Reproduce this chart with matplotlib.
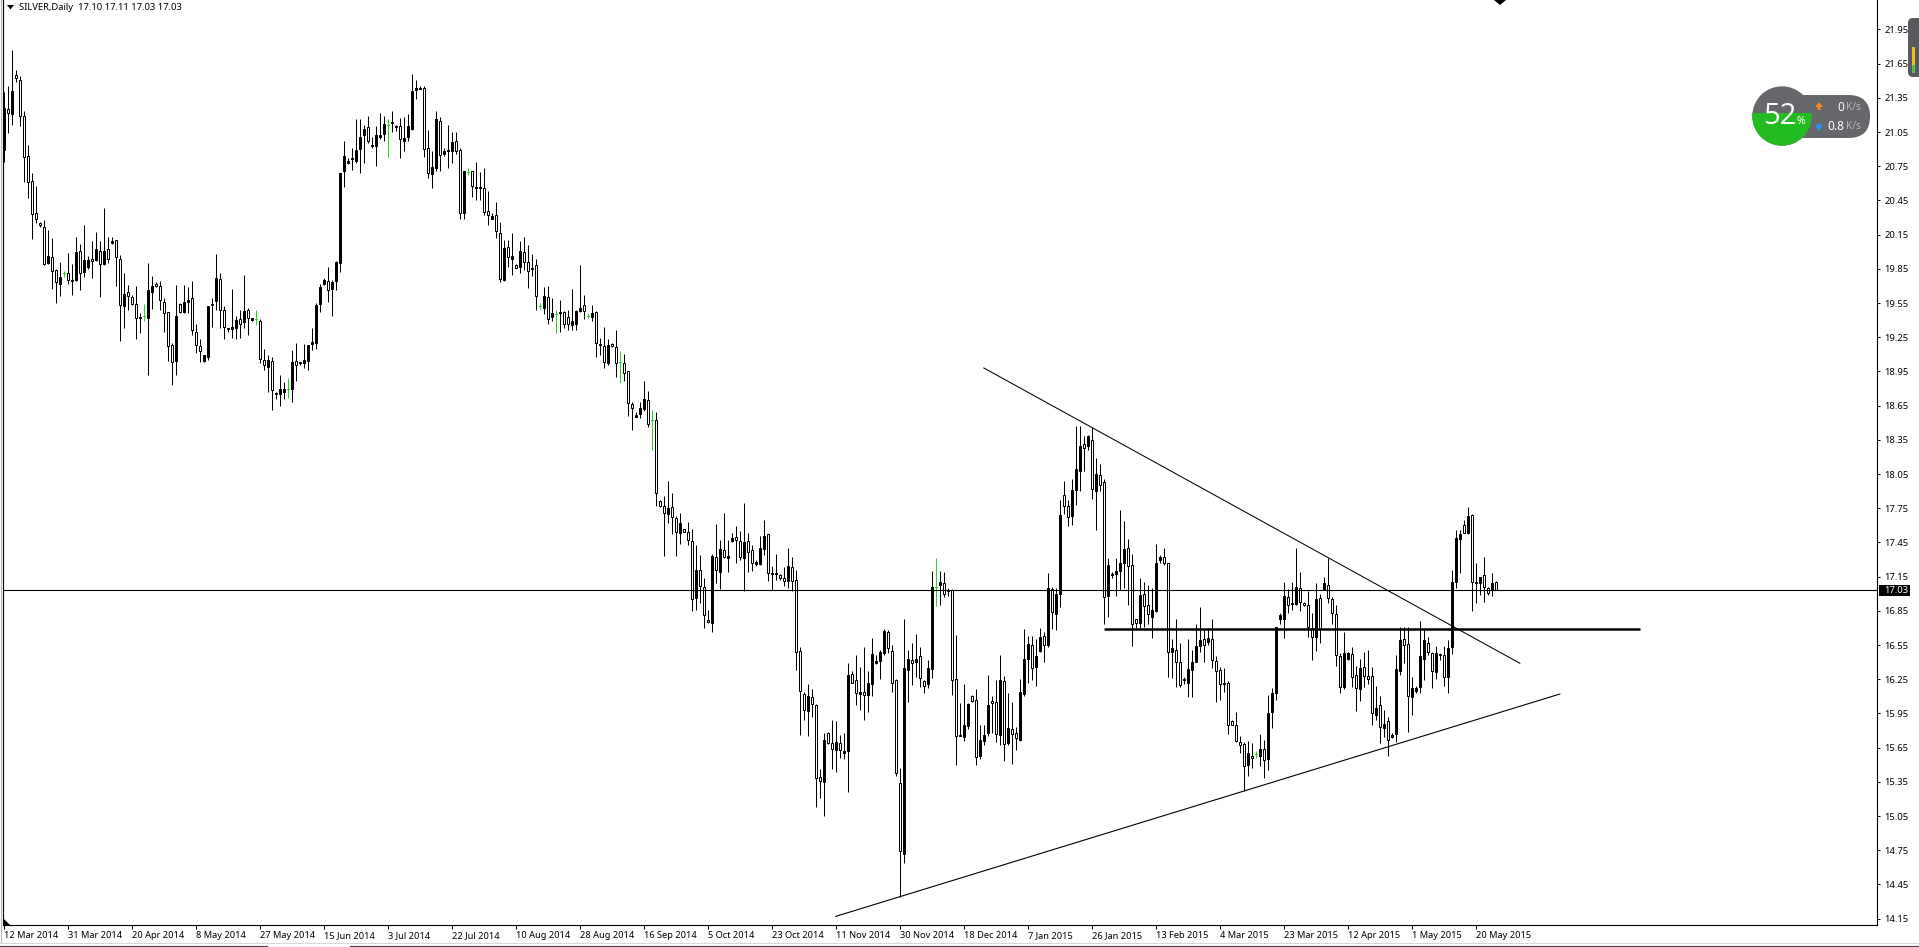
import matplotlib
matplotlib.use("Agg")
import matplotlib.pyplot as plt
from matplotlib.patches import Circle, FancyBboxPatch, Polygon, Rectangle

highs = [
21.40,21.45,21.77,21.59,21.54,21.23,20.94,20.69,20.58,20.26,
20.28,20.19,20.12,19.85,19.91,19.83,19.99,19.89,20.13,20.07,
20.23,19.96,20.09,20.17,20.09,20.38,20.13,20.13,20.10,19.97,
19.81,19.71,19.62,19.70,19.46,19.54,19.90,19.79,19.73,19.74,
19.59,19.47,19.20,19.71,19.55,19.71,19.69,19.74,19.37,19.23,
19.09,19.52,19.59,19.98,19.81,19.52,19.33,19.67,19.44,19.49,
19.80,19.51,19.42,19.49,19.41,19.15,19.09,19.08,18.77,18.92,
18.86,18.89,19.14,19.20,19.03,19.19,19.18,19.33,19.55,19.72,
19.77,19.87,19.75,19.92,20.69,20.97,20.82,20.91,21.16,21.16,
21.11,21.19,21.01,21.10,21.22,21.19,21.16,21.23,21.11,21.17,
21.18,21.21,21.56,21.51,21.45,21.45,21.07,20.88,21.23,21.18,
20.91,21.11,21.05,21.05,20.91,20.70,20.73,20.70,20.79,20.70,
20.73,20.53,20.34,20.44,20.26,20.10,20.10,20.16,19.89,20.09,
20.13,20.06,19.98,19.94,19.55,19.69,19.70,19.59,19.49,19.58,
19.48,19.49,19.67,19.49,19.88,19.62,19.46,19.53,19.48,19.24,
19.34,19.23,19.20,19.31,19.13,19.10,18.95,18.68,18.59,18.68,
18.87,18.78,18.61,18.59,17.82,17.86,17.99,17.88,17.68,17.71,
17.57,17.63,17.57,17.43,17.34,17.14,16.86,17.35,17.61,17.47,
17.71,17.47,17.53,17.59,17.55,17.80,17.53,17.43,17.30,17.51,
17.65,17.52,17.24,17.35,17.17,17.23,17.40,17.32,17.21,16.53,
16.14,16.21,16.16,16.03,15.46,15.78,15.79,15.89,15.88,15.76,
15.78,16.39,16.32,16.46,16.36,16.53,16.32,16.61,16.46,16.51,
16.69,16.68,16.55,16.25,15.47,16.78,16.51,16.57,16.65,16.53,
16.24,16.42,17.20,17.31,17.20,17.19,17.05,17.04,16.64,16.04,
16.21,16.04,16.11,16.16,15.85,15.85,16.29,16.10,16.24,16.46,
16.28,16.13,16.05,15.83,16.25,16.69,16.63,16.63,16.60,16.70,
16.66,17.18,17.06,17.05,17.82,17.99,17.82,18.01,18.47,18.47,
18.38,18.39,18.46,18.19,18.14,18.01,17.31,17.19,17.31,17.73,
17.64,17.48,17.35,16.78,17.14,17.10,17.08,17.05,17.44,17.34,
17.40,17.27,16.60,16.78,16.57,16.27,16.60,16.51,16.73,16.88,
16.68,16.70,16.78,16.45,16.36,16.35,16.23,15.89,15.96,15.75,
15.70,15.71,15.69,15.62,15.77,15.72,16.11,16.17,16.71,16.83,
17.10,17.04,17.10,17.40,17.19,16.93,17.02,16.83,17.09,17.00,
17.15,17.31,16.97,16.90,16.48,16.66,16.49,16.53,16.37,16.43,
16.49,16.51,16.36,16.19,16.10,15.98,15.92,15.78,16.46,16.71,
16.71,16.71,16.27,16.19,16.76,16.68,16.62,16.49,16.54,16.48,
16.54,16.59,17.21,17.56,17.56,17.65,17.76,17.70,17.27,17.15,
17.32,17.06,17.18,17.11]

body_top = [
21.26,21.25,21.41,21.55,21.51,21.19,20.84,20.62,20.34,20.25,
20.22,19.96,19.95,19.84,19.78,19.81,19.81,19.75,20.00,20.01,
19.93,19.93,19.94,20.02,20.01,20.01,20.02,20.09,20.10,19.94,
19.63,19.65,19.60,19.54,19.43,19.44,19.66,19.70,19.72,19.70,
19.56,19.47,19.18,19.44,19.54,19.56,19.58,19.59,19.30,19.17,
19.09,19.52,19.54,19.77,19.76,19.49,19.33,19.34,19.40,19.41,
19.48,19.49,19.42,19.41,19.39,19.05,19.05,19.04,18.76,18.80,
18.80,18.80,19.03,19.04,19.03,19.05,19.18,19.21,19.53,19.69,
19.75,19.74,19.73,19.91,20.69,20.84,20.80,20.82,20.89,21.01,
21.08,21.09,20.94,21.02,21.02,21.12,21.11,21.14,21.10,21.10,
21.00,21.10,21.41,21.44,21.44,21.44,20.91,20.74,21.16,21.15,
20.88,20.89,20.96,20.97,20.89,20.71,20.70,20.71,20.57,20.57,
20.56,20.36,20.31,20.32,20.16,20.03,20.04,19.96,19.88,20.01,
20.00,19.91,19.86,19.88,19.52,19.61,19.60,19.46,19.45,19.47,
19.47,19.43,19.39,19.48,19.51,19.53,19.44,19.46,19.47,19.19,
19.17,19.18,19.19,19.16,19.03,19.02,18.95,18.66,18.57,18.63,
18.71,18.70,18.52,18.52,17.81,17.77,17.75,17.76,17.66,17.62,
17.57,17.54,17.46,17.21,17.21,17.06,16.77,17.33,17.32,17.39,
17.38,17.33,17.49,17.50,17.46,17.45,17.46,17.38,17.28,17.40,
17.51,17.52,17.18,17.18,17.16,17.14,17.24,17.23,17.12,16.50,
16.12,16.10,16.09,16.02,15.39,15.72,15.78,15.69,15.70,15.69,
15.62,16.29,16.30,16.24,16.14,16.14,16.22,16.47,16.41,16.49,
16.67,16.66,16.50,16.24,15.34,16.35,16.43,16.42,16.43,16.45,
16.23,16.35,17.06,17.06,17.10,17.09,17.03,17.03,16.25,15.76,
15.85,16.03,16.10,16.07,15.72,15.76,16.02,16.06,16.05,16.24,
16.23,15.82,15.81,15.78,16.14,16.43,16.56,16.55,16.45,16.62,
16.63,17.05,17.04,17.00,17.69,17.87,17.77,17.91,18.09,18.30,
18.31,18.38,18.35,18.05,18.04,17.98,17.25,17.17,17.20,17.27,
17.39,17.40,17.25,16.78,16.99,17.00,16.90,16.86,17.27,17.32,
17.32,17.27,16.52,16.51,16.40,16.25,16.34,16.40,16.54,16.59,
16.60,16.61,16.60,16.41,16.33,16.22,16.22,15.88,15.85,15.70,
15.68,15.60,15.58,15.59,15.64,15.64,15.95,16.13,16.71,16.81,
16.98,16.97,16.92,17.06,17.05,16.92,16.90,16.70,16.95,16.96,
17.09,17.08,16.95,16.82,16.45,16.48,16.48,16.47,16.29,16.35,
16.36,16.28,16.28,16.00,16.02,15.86,15.88,15.76,16.34,16.59,
16.60,16.56,16.17,16.17,16.45,16.59,16.57,16.48,16.48,16.47,
16.46,16.52,17.10,17.49,17.52,17.60,17.68,17.69,17.10,17.15,
17.16,17.05,17.09,17.10]

body_bottom = [
20.89,21.22,21.21,21.52,21.19,20.83,20.61,20.33,20.29,20.23,
19.89,19.90,19.83,19.73,19.72,19.81,19.75,19.74,19.75,19.81,
19.82,19.87,19.92,19.93,19.89,19.89,19.94,20.08,19.95,19.53,
19.52,19.61,19.54,19.42,19.42,19.44,19.42,19.65,19.70,19.58,
19.46,19.17,19.03,19.04,19.47,19.47,19.56,19.31,19.18,19.13,
19.04,19.08,19.53,19.57,19.49,19.34,19.32,19.32,19.33,19.37,
19.38,19.42,19.40,19.41,19.06,19.01,18.99,18.79,18.75,18.75,
18.77,18.80,18.80,19.01,19.02,19.02,19.04,19.19,19.20,19.54,
19.72,19.66,19.67,19.74,19.90,20.71,20.78,20.81,20.80,20.90,
21.02,20.97,20.93,20.93,21.01,21.03,21.11,21.13,21.09,20.99,
20.97,21.01,21.08,21.42,21.43,20.90,20.69,20.68,20.73,20.85,
20.86,20.88,20.88,20.88,20.34,20.34,20.70,20.58,20.56,20.56,
20.35,20.32,20.29,20.18,19.76,19.75,19.95,19.94,19.86,19.87,
19.91,19.83,19.85,19.61,19.52,19.51,19.41,19.43,19.45,19.46,
19.37,19.37,19.36,19.37,19.48,19.48,19.44,19.43,19.20,19.18,
19.03,19.02,19.17,19.02,19.03,18.94,18.67,18.63,18.55,18.58,
18.62,18.49,18.52,17.88,17.77,17.71,17.70,17.67,17.54,17.53,
17.54,17.47,16.95,16.96,17.07,16.81,16.75,16.74,17.21,17.19,
17.32,17.31,17.46,17.47,17.32,17.31,17.37,17.27,17.26,17.26,
17.39,17.18,17.17,17.17,17.14,17.11,17.11,17.11,16.49,16.15,
15.98,15.97,16.03,15.38,15.36,15.35,15.69,15.64,15.63,15.63,
15.60,15.62,16.22,16.13,16.12,16.11,16.11,16.21,16.39,16.41,
16.48,16.52,16.22,15.43,14.74,14.72,16.33,16.39,16.40,16.26,
16.19,16.21,16.34,17.06,17.08,17.00,17.02,16.24,15.75,15.75,
15.74,15.84,16.06,15.57,15.58,15.71,15.78,16.04,15.77,15.76,
15.68,15.69,15.77,15.73,15.72,16.12,16.43,16.35,16.36,16.50,
16.55,16.55,16.84,16.82,17.00,17.77,17.67,17.68,17.91,18.08,
18.28,18.30,17.92,17.90,17.95,16.97,16.98,17.16,17.17,17.20,
17.27,17.24,16.73,16.74,16.74,16.89,16.82,16.80,16.85,17.30,
17.27,16.49,16.49,16.40,16.20,16.24,16.22,16.33,16.40,16.54,
16.55,16.58,16.42,16.32,16.21,16.21,15.85,15.85,15.71,15.67,
15.49,15.50,15.56,15.59,15.58,15.54,15.55,15.96,16.13,16.78,
16.78,16.90,16.91,16.91,16.93,16.90,16.71,16.62,16.62,16.70,
17.03,16.96,16.83,16.46,16.18,16.18,16.43,16.27,16.17,16.16,
16.28,16.25,15.95,15.94,15.83,15.82,15.72,15.74,15.77,16.32,
16.55,16.10,16.09,16.15,16.18,16.43,16.49,16.32,16.31,16.46,
16.27,16.27,16.53,17.10,17.48,17.53,17.53,17.10,17.09,17.09,
17.06,17.01,17.03,17.03]

lows = [
20.79,21.04,21.11,21.49,21.10,20.61,20.47,20.11,20.25,20.22,
19.88,19.89,19.67,19.55,19.61,19.78,19.72,19.62,19.74,19.66,
19.78,19.85,19.77,19.92,19.60,19.88,19.90,20.07,19.70,19.22,
19.33,19.49,19.53,19.23,19.29,19.39,18.92,19.50,19.69,19.49,
19.30,19.04,18.83,18.92,19.46,19.46,19.46,19.27,19.11,19.03,
19.03,19.05,19.34,19.49,19.33,19.23,19.30,19.24,19.23,19.24,
19.33,19.27,19.39,19.36,19.02,18.96,18.77,18.61,18.71,18.65,
18.71,18.72,18.68,18.87,19.01,18.98,18.96,19.14,19.15,19.47,
19.71,19.56,19.44,19.66,19.82,20.57,20.77,20.72,20.78,20.69,
20.78,20.95,20.91,20.75,20.99,20.97,20.83,21.05,21.06,20.82,
20.88,20.97,21.07,21.34,21.43,20.83,20.65,20.56,20.71,20.71,
20.84,20.73,20.78,20.86,20.29,20.29,20.67,20.48,20.45,20.45,
20.32,20.23,20.29,20.12,19.73,19.74,19.87,19.80,19.86,19.81,
19.84,19.68,19.79,19.49,19.50,19.45,19.37,19.39,19.29,19.30,
19.33,19.31,19.31,19.31,19.47,19.41,19.42,19.39,19.08,19.09,
18.98,19.01,19.16,18.90,18.85,18.87,18.56,18.44,18.55,18.54,
18.60,18.46,18.26,17.77,17.76,17.33,17.62,17.52,17.33,17.44,
17.54,17.43,16.85,16.86,16.92,16.70,16.74,16.66,17.09,17.04,
17.31,17.19,17.45,17.27,17.30,17.02,17.19,17.20,17.24,17.25,
17.34,17.11,17.03,17.12,17.12,17.07,17.05,17.02,16.33,15.76,
15.89,15.75,15.92,15.13,15.21,15.05,15.68,15.46,15.44,15.56,
15.55,15.26,16.22,16.02,15.98,15.89,15.96,16.10,16.38,16.25,
16.46,16.48,16.14,15.40,14.34,14.64,16.05,16.20,16.27,16.18,
16.13,16.17,16.26,16.89,16.90,16.97,16.98,16.11,15.50,15.75,
15.71,15.81,16.05,15.50,15.55,15.67,15.75,15.78,15.70,15.67,
15.53,15.67,15.51,15.63,15.71,16.10,16.22,16.24,16.19,16.49,
16.40,16.53,16.69,16.68,16.88,17.70,17.59,17.60,17.78,17.90,
18.08,18.26,17.83,17.56,17.90,16.73,16.80,17.14,16.98,17.03,
17.05,16.90,16.54,16.70,16.70,16.71,16.73,16.61,16.84,17.27,
17.25,16.27,16.26,16.18,16.18,16.21,16.09,16.09,16.40,16.49,
16.40,16.55,16.35,16.05,16.07,16.14,15.77,15.85,15.70,15.60,
15.27,15.40,15.47,15.56,15.49,15.38,15.45,15.82,16.07,16.73,
16.61,16.83,16.86,16.90,16.85,16.89,16.62,16.42,16.50,16.57,
17.03,16.92,16.73,16.37,16.13,16.16,16.42,16.18,15.97,16.06,
16.18,16.21,15.85,15.89,15.69,15.74,15.58,15.73,15.70,16.29,
16.39,15.79,15.94,16.13,16.13,16.24,16.46,16.17,16.25,16.42,
16.19,16.13,16.47,17.05,17.18,17.53,17.52,16.85,16.92,16.99,
16.93,16.99,16.98,17.03]

# B: close above open (filled), W: close below open (hollow), G: open equals close
kinds = (
"BWBWWWWWWW" "WBWWBGWBBW" "BBWBWBWBWW" "BWWWWGBBWW" "WWWBWBBWWW"
"BBBBWWBBBW" "BWBGWWBWWB" "BGBWBBBBBB" "BWBBBBBBBB" "BWBBBBGWBW"
"BBBBBWWBBW" "BBBWWBGWBB" "WWBWWBWBWB" "WWBWGBWBGB" "WWBBBWGBWB"
"WBWWGWWWBB" "BWGWWWBWWB" "WWWBWWWBWB" "WBBWWBWWBB" "BWBBWWBWWW"
"WBWWWBWWBW" "BBWWBWBBBB" "BWWWWBBWBW" "WBBGBWBWWB" "BBWWBBBWWB"
"WBWWBBBWBB" "WBWBBWWBBB" "WBWBWWBBBB" "BWWWBWWBBB" "WWBWWBBBBB"
"WBWWWBWWWW" "WBWGBWBBBB" "BWBBWWWWBW" "BWWWWBBWWB" "WWWBWBWBBB"
"WWBBBBWWBB" "WBBBBWBWBB" "WWBW"
)

price_ticks = [21.95, 21.65, 21.35, 21.05, 20.75, 20.45, 20.15, 19.85, 19.55, 19.25,
               18.95, 18.65, 18.35, 18.05, 17.75, 17.45, 17.15, 16.85, 16.55, 16.25,
               15.95, 15.65, 15.35, 15.05, 14.75, 14.45, 14.15]
date_labels = ["12 Mar 2014", "31 Mar 2014", "20 Apr 2014", "8 May 2014", "27 May 2014",
               "15 Jun 2014", "3 Jul 2014", "22 Jul 2014", "10 Aug 2014", "28 Aug 2014",
               "16 Sep 2014", "5 Oct 2014", "23 Oct 2014", "11 Nov 2014", "30 Nov 2014",
               "18 Dec 2014", "7 Jan 2015", "26 Jan 2015", "13 Feb 2015", "4 Mar 2015",
               "23 Mar 2015", "12 Apr 2015", "1 May 2015", "20 May 2015"]
date_bars = [1 + 16 * i for i in range(len(date_labels))]

last_price = 17.03
falling_x, falling_y = [245.9, 379.9], [18.98, 16.39]
rising_x, rising_y = [208.9, 389.9], [14.17, 16.12]
level_x, level_y = [276, 410], [16.69, 16.69]

W, H = 1919, 947
plt.rcParams["font.family"] = "Noto Sans"
fig = plt.figure(figsize=(W / 100, H / 100), dpi=100, facecolor="white")
L, R, B, T = 3, 1877, 925, 0
ax = fig.add_axes([L / W, 1 - B / H, (R - L) / W, (B - T) / H])
ax.set_xlim(0.675, 469.2)
ax.set_ylim(14.094, 22.208)
ax.set_facecolor("white")
ax.spines["top"].set_visible(False)
for s in ("left", "right", "bottom"):
    ax.spines[s].set_linewidth(0.8)
    ax.spines[s].set_color("black")

half = 0.25  # half body width in bars
THIN = 0.72
for i, k in enumerate(kinds):
    x = i + 1
    if k == "G":
        ax.plot([x, x], [lows[i], highs[i]], color="#22d822", lw=THIN, solid_capstyle="butt", zorder=3)
        ax.plot([x - half, x + half], [body_top[i]] * 2, color="#22d822", lw=THIN, zorder=3)
        continue
    ax.plot([x, x], [lows[i], highs[i]], color="black", lw=THIN, solid_capstyle="butt", zorder=3)
    ax.add_patch(Rectangle((x - half, body_bottom[i]), 2 * half, body_top[i] - body_bottom[i],
                           facecolor="black" if k == "B" else "white",
                           edgecolor="black", lw=THIN, zorder=4))

ax.axhline(last_price, color="black", lw=0.8, zorder=5)
ax.plot(falling_x, falling_y, color="black", lw=0.75, zorder=6)
ax.plot(rising_x, rising_y, color="black", lw=0.8, zorder=6)
ax.plot(level_x, level_y, color="black", lw=1.8, solid_capstyle="butt", zorder=6)

ax.yaxis.tick_right()
ax.set_yticks(price_ticks)
ax.set_yticklabels([f"{v:.2f}" for v in price_ticks], fontsize=6.8, color="black")
ax.tick_params(axis="y", length=2.2, width=0.75, pad=2.9)
ax.set_xticks(date_bars)
ax.set_xticklabels(date_labels, fontsize=6.65, color="black", ha="left")
ax.tick_params(axis="x", length=2.8, width=0.75, pad=1.6)

ov = fig.add_axes([0, 0, 1, 1], facecolor="none", zorder=10)
ov.set_xlim(0, W)
ov.set_ylim(H, 0)
ov.axis("off")

# header
ov.add_patch(Polygon([(7, 5), (14, 5), (10.5, 9.5)], color="black", lw=0))
ov.text(19, 7.5, "SILVER,Daily  17.10 17.11 17.03 17.03", fontsize=6.8, va="center", ha="left", color="black")
# corner marks
ov.add_patch(Polygon([(3, 918), (3, 925), (10, 925)], color="black", lw=0))
ov.add_patch(Polygon([(1494, 0), (1506, 0), (1500, 5)], color="black", lw=0))
# window frame and tab strip
ov.plot([0.5, 0.5], [0, 943], color="#b8b8b8", lw=0.8)
ov.plot([0, 267], [945.5, 945.5], color="#404040", lw=0.8)
ov.plot([350, 1919], [945.5, 945.5], color="#404040", lw=0.8)
ov.plot([0, 1919], [943, 943], color="#d8d8d8", lw=0.8)
# last price tag
ov.add_patch(Rectangle((1879, 584.5), 31, 11, facecolor="black", lw=0))
ov.text(1884, 590, "17.03", color="white", fontsize=6.8, ha="left", va="center")
# scrollbar pill
ov.add_patch(FancyBboxPatch((1908, 18), 16, 59, boxstyle="round,pad=0,rounding_size=5",
                            facecolor="#5a5a5e", edgecolor="none", lw=0))
ov.add_patch(Rectangle((1912, 47), 2.5, 18, facecolor="#e8c020", lw=0))
ov.add_patch(Rectangle((1912, 65), 2.5, 8, facecolor="#50c040", lw=0))
# network meter widget
grey = "#66676b"
ov.add_patch(FancyBboxPatch((1782, 95), 88, 43, boxstyle="round,pad=0,rounding_size=21.5",
                            facecolor=grey, edgecolor="none", lw=0))
circle = Circle((1782, 116), 29.7, facecolor=grey, lw=0)
ov.add_patch(circle)
green = Rectangle((1750, 113), 64, 36, facecolor="#22bb22", lw=0)
ov.add_patch(green)
green.set_clip_path(circle)
ov.text(1779.5, 116.5, "52", color="white", fontsize=21, ha="center", va="center", family="Open Sans")
ov.text(1801, 121, "%", color="white", fontsize=7.5, ha="center", va="center")
ov.add_patch(Polygon([(1815, 107), (1819, 102), (1823, 107), (1820.5, 107), (1820.5, 110), (1817.5, 110), (1817.5, 107)],
                     color="#f08a1c", lw=0))
ov.add_patch(Polygon([(1815, 126), (1819, 123), (1823, 126), (1819, 131)], color="#2f8fe0", lw=0))
ov.text(1844, 107, "0", color="white", fontsize=8.5, ha="right", va="center")
ov.text(1846, 107.5, "K/s", color="#b8b8bc", fontsize=7.2, ha="left", va="center")
ov.text(1844, 126, "0.8", color="white", fontsize=8.5, ha="right", va="center")
ov.text(1846, 126.5, "K/s", color="#b8b8bc", fontsize=7.2, ha="left", va="center")

fig.savefig("out.png", dpi=100, facecolor="white")
